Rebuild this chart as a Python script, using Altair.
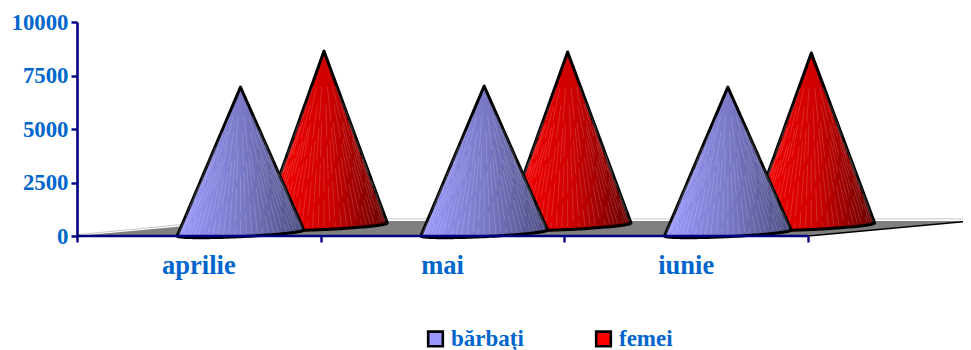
import math
import altair as alt
import pandas as pd

months = ["aprilie", "mai", "iunie"]
series = ["bărbați", "femei"]
barbati = [6960, 7010, 6960]
femei = [8640, 8600, 8550]
base_lift = {"bărbați": 0, "femei": 330}
center_offset = {"bărbați": 0.671, "femei": 1.0135}
half_width = 0.26
tilt = 280
bulge = 170
floor_x = [0, 0.669, 3, 3.668]
floor_top = [0, 700, 700, 700]
floor_bottom = [0, 0, 0, 700]
back_x = [0, 0.669, 3.668]
back_y = [60, 800, 800]
X_MAX = 3.636

x_scale = alt.Scale(domain=[0, X_MAX], nice=False, zero=False)
y_scale = alt.Scale(domain=[0, 10000], nice=False)
NAVY = "#000080"
BLUE = "#0066cc"
FONT = "Liberation Serif"

def outline(name, values):
    rows, fan = [], []
    n = 60
    for m, apex in enumerate(values):
        cx = m + center_offset[name]
        lift = base_lift[name]
        left_y, right_y = lift, lift + tilt
        for i in range(n + 1):
            u = -math.cos(math.pi * i / n)
            if i == n / 2:
                u = 0.0
            chord = (left_y + right_y) / 2 + u * (right_y - left_y) / 2
            low = chord - bulge * math.sqrt(max(0, 1 - u * u))
            top = apex + (left_y - apex) * (-u) if u < 0 else apex + (right_y - apex) * u
            rows.append({"m": m, "x": cx + u * half_width, "top": top, "low": low})
        k = 34
        for i in range(1, k):
            u = -math.cos(math.pi * i / k)
            chord = (left_y + right_y) / 2 + u * (right_y - left_y) / 2
            low = chord - bulge * math.sqrt(max(0, 1 - u * u))
            f0 = 0.2 + 0.4 * ((i * 7) % 5) / 4
            f = 0.985
            fan.append({"x": cx + f0 * u * half_width, "y": apex + f0 * (low - apex),
                        "x2": cx + f * u * half_width, "y2": apex + f * (low - apex)})
    return pd.DataFrame(rows), pd.DataFrame(fan)

def cone_layers(name, values, stops):
    area_df, fan_df = outline(name, values)
    body = alt.Chart(area_df).mark_area(
        fill=alt.Gradient(gradient="linear", x1=0, x2=1, y1=0, y2=0,
                          stops=[alt.GradientStop(color=c, offset=o) for o, c in stops]),
        stroke="black", strokeWidth=3, strokeJoin="round", interpolate="linear", orient="vertical",
    ).encode(
        x=alt.X("x:Q", scale=x_scale, axis=None),
        y=alt.Y("top:Q", scale=y_scale, axis=None),
        y2="low:Q",
        detail="m:N",
    )
    streaks = alt.Chart(fan_df).mark_rule(color="white", opacity=0.24, strokeWidth=0.7,
                                          strokeDash=[34, 7]).encode(
        x=alt.X("x:Q", scale=x_scale, axis=None),
        y=alt.Y("y:Q", scale=y_scale, axis=None),
        x2="x2:Q", y2="y2:Q",
    )
    return [body, streaks]

floor_df = pd.DataFrame({"x": floor_x, "top": floor_top, "low": floor_bottom})
floor = alt.Chart(floor_df).mark_area(fill="#808080", interpolate="linear", orient="vertical").encode(
    x=alt.X("x:Q", scale=x_scale, axis=None),
    y=alt.Y("top:Q", scale=y_scale, axis=None),
    y2="low:Q",
)
back_df = pd.DataFrame({"x": back_x, "y": back_y})
back = alt.Chart(back_df).mark_line(color="#c8c8c8", strokeWidth=1).encode(
    x=alt.X("x:Q", scale=x_scale, axis=None),
    y=alt.Y("y:Q", scale=y_scale, axis=None),
    order="x:Q",
)
edge_df = pd.DataFrame({"x": floor_x[2:], "y": floor_bottom[2:]})
edge = alt.Chart(edge_df).mark_line(color="black", strokeWidth=1.4).encode(
    x=alt.X("x:Q", scale=x_scale, axis=None),
    y=alt.Y("y:Q", scale=y_scale, axis=None),
    order="x:Q",
)

axes_df = pd.DataFrame({"x": [0, 3], "y": [0, 0]})
axes = alt.Chart(axes_df).mark_line(color=NAVY, strokeWidth=2.6).encode(
    x=alt.X("x:Q", scale=x_scale, axis=alt.Axis(
        values=[0, 1, 2, 3], labels=False, title=None, domain=False, grid=False,
        tickColor=NAVY, tickWidth=2.4, tickSize=6, orient="bottom", zindex=1)),
    y=alt.Y("y:Q", scale=y_scale, axis=alt.Axis(
        values=[0, 2500, 5000, 7500, 10000], title=None, grid=False, format="d",
        domainColor=NAVY, domainWidth=2.6, tickColor=NAVY, tickWidth=2.4, tickSize=6,
        labelColor=BLUE, labelFont=FONT, labelFontWeight="bold", labelFontSize=22.8,
        labelPadding=3, zindex=1)),
    order="x:Q",
)

labels_df = pd.DataFrame({"x": [i + 0.5 for i in range(len(months))], "t": months})
labels = alt.Chart(labels_df).mark_text(
    font=FONT, fontWeight="bold", fontSize=26.5, color=BLUE, baseline="alphabetic", align="center"
).encode(
    x=alt.X("x:Q", scale=x_scale, axis=None),
    y=alt.value(252),
    text="t:N",
)

legend_df = pd.DataFrame({"s": series, "x": [0.0, 0.0], "y": [0, 0]})
legend_layer = alt.Chart(legend_df).mark_square(opacity=0, size=1).encode(
    x=alt.X("x:Q", scale=x_scale, axis=None),
    y=alt.Y("y:Q", scale=y_scale, axis=None),
    color=alt.Color("s:N", scale=alt.Scale(domain=series, range=["#9999ff", "#ff0000"]),
                    legend=alt.Legend(
                        title=None, orient="none", legendX=347, legendY=305,
                        direction="horizontal", symbolType="square", symbolSize=215,
                        symbolOpacity=1, symbolStrokeColor="black", symbolStrokeWidth=2.6,
                        labelColor=BLUE, labelFont=FONT, labelFontWeight="bold", labelFontSize=23,
                        columnPadding=66, labelOffset=4, labelLimit=200)),
)

layers = [back, floor, edge]
layers += cone_layers("femei", femei, [(0, "#ff0000"), (0.55, "#cc0000"), (1, "#660000")])
layers += cone_layers("bărbați", barbati, [(0, "#9a9aff"), (0.5, "#7a7ac8"), (1, "#4c4c80")])
layers += [axes, labels, legend_layer]

chart = alt.layer(*layers).resolve_axis(x="independent", y="independent").properties(
    width=886, height=214,
    padding={"left": 69, "top": 14, "right": 0, "bottom": 114},
    autosize=alt.AutoSizeParams(type="none"),
).configure_view(stroke=None)

chart.save("out.html", embed_options={"renderer": "svg", "actions": False})
